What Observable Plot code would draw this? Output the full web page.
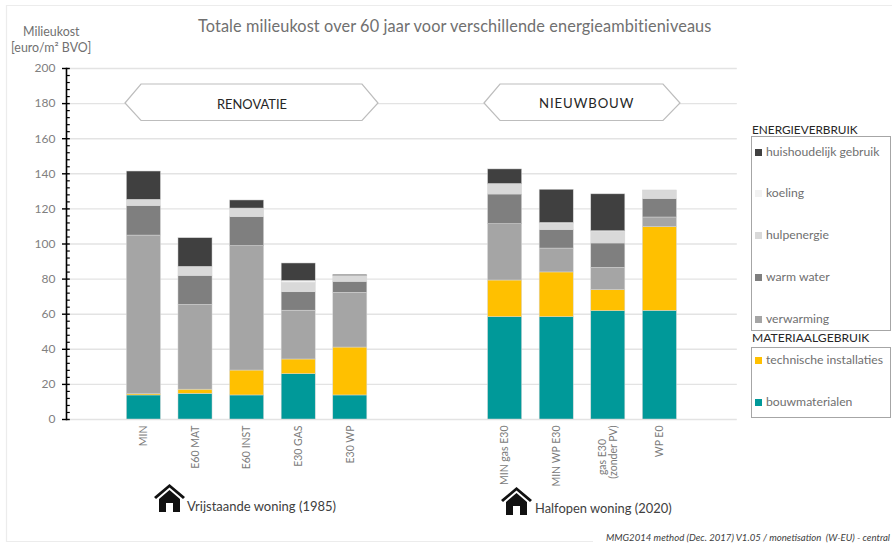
<!DOCTYPE html>
<html lang="nl">
<head>
<meta charset="utf-8">
<script src="https://cdn.jsdelivr.net/npm/d3@7"></script>
<script src="https://cdn.jsdelivr.net/npm/@observablehq/plot@0.6"></script>
<style>
html,body{margin:0;padding:0;background:#fff;}
#wrap{position:relative;width:892px;height:544px;overflow:hidden;font-family:Lato,sans-serif;color:#6f6f6f;}
#wrap svg{display:block;}
.abs{position:absolute;white-space:nowrap;line-height:1;}
.sw{position:absolute;width:7px;height:7px;}
.box{position:absolute;border:1px solid #a6a6a6;box-sizing:border-box;}
</style>
</head>
<body>
<div id="wrap"></div>
<script>
// Categories on the x axis, with empty slots between the groups
const gasLabel = "gas E30\u00a0\u00a0\u00a0\u00a0\u00a0\n(zonder PV)";
const xDomain = ["·1","MIN","E60 MAT","E60 INST","E30 GAS","E30 WP","·2","·3","MIN gas E30","MIN WP E30",gasLabel,"WP E0","·4"];
const categories = ["MIN","E60 MAT","E60 INST","E30 GAS","E30 WP","MIN gas E30","MIN WP E30",gasLabel,"WP E0"];

// Series values (euro/m² BVO), one per category
const bouwmaterialen        = [13.7,14.6,13.7,25.8,13.7,58.3,58.3,61.7,61.9];
const technischeInstallaties= [0.7,2.4,14.2,8.4,27.3,20.9,25.5,12.0,47.7];
const verwarming            = [90.4,48.3,70.9,27.8,31.2,32.1,13.6,12.7,5.5];
const warmWater             = [16.8,16.5,16.5,10.5,6.2,16.9,10.5,13.9,10.5];
const hulpenergie           = [3.6,5.2,4.9,5.3,3.4,5.7,3.6,6.6,4.9];
const koeling               = [0,0,0,1.2,0,0.3,0.5,0.4,0];
const huishoudelijk         = [16.1,16.3,4.6,9.9,0.6,8.3,18.9,21.0,0];

const seriesNames  = ["bouwmaterialen","technische installaties","verwarming","warm water","hulpenergie","koeling","huishoudelijk gebruik"];
const seriesValues = [bouwmaterialen,technischeInstallaties,verwarming,warmWater,hulpenergie,koeling,huishoudelijk];
const seriesColors = ["#009999","#ffc000","#a5a5a5","#7f7f7f","#d9d9d9","#f2f2f2","#404040"];

const majorTicks = d3.range(0,201,20);
const minorTicks = d3.range(0,201,4).filter(v => v % 20 !== 0);

const rows = categories.flatMap((c,i) =>
  seriesNames.map((s,j) => ({category:c, series:s, value:seriesValues[j][i]})));

const chart = Plot.plot({
  width:892, height:544,
  marginLeft:66, marginRight:155.2, marginTop:68, marginBottom:125,
  style:{fontFamily:"Lato,sans-serif",fontSize:"12px",background:"transparent"},
  x:{type:"band",domain:xDomain,paddingInner:0.34,paddingOuter:0.17,round:false,label:null},
  y:{domain:[0,200],label:null},
  color:{domain:seriesNames,range:seriesColors},
  marks:[
    Plot.ruleY(majorTicks,{stroke:"#e3e3e3",strokeWidth:1.4}),
    Plot.barY(rows,{x:"category",y:"value",fill:"series",stroke:"#d6d6d6",strokeWidth:0.5}),
    Plot.axisX({ticks:categories,tickSize:0,tickRotate:-90,tickPadding:6,label:null,fill:"#7a7a7a",fontSize:10.5}),
    Plot.axisY({ticks:majorTicks,tickSize:4,tickPadding:7,label:null,stroke:"#000",strokeWidth:1.4,fill:"#808080",fontSize:12}),
    Plot.ruleY(majorTicks,{stroke:"#000",strokeWidth:1.4,insetRight:667}),
    Plot.ruleY(minorTicks,{stroke:"#000",strokeWidth:1.2,insetRight:667}),
    Plot.frame({anchor:"left",stroke:"#000",strokeWidth:1.6})
  ]
});

const wrap = document.getElementById("wrap");
wrap.appendChild(chart);

// Decorations: page frame, group banners, house icons
const housePath = (x,y) => `M${x} ${y+13}L${x+15.5} ${y}L${x+31} ${y+13}L${x+29} ${y+15}L${x+15.5} ${y+3.5}L${x+2} ${y+15}Z`+
  `M${x+5} ${y+15}L${x+15.5} ${y+6}L${x+26} ${y+15}V${y+28}H${x+19}V${y+19}H${x+12}V${y+28}H${x+5}Z`;
const overlay = `<svg xmlns="http://www.w3.org/2000/svg" width="892" height="544" style="position:absolute;left:0;top:0;pointer-events:none">
  <path d="M900 5.5H6.5V541.5H593" fill="none" stroke="#ececec" stroke-width="1.2"/>
  <polygon points="125,103 141,84 362,84 378,103 362,120.5 141,120.5" fill="#fff" stroke="#bdbdbd" stroke-width="1.2"/>
  <polygon points="484,103 500,84 663,84 680,103 663,120.5 500,120.5" fill="#fff" stroke="#bdbdbd" stroke-width="1.2"/>
  <path d="${housePath(154,484)}" fill="#111"/>
  <path d="${housePath(501,487)}" fill="#111"/>
</svg>`;
wrap.insertAdjacentHTML("beforeend",overlay);

function text(str,x,yc,size,color,extra){
  const d=document.createElement("div");
  d.className="abs";
  d.textContent=str;
  d.style.cssText=`left:${x}px;top:${yc-size/2}px;font-size:${size}px;color:${color};${extra||""}`;
  wrap.appendChild(d);
  return d;
}
text("Totale milieukost over 60 jaar voor verschillende energieambitieniveaus",198,26,16.3,"#707070","letter-spacing:0.11px;");
text("Milieukost",23,32,12.4,"#707070");
text("[euro/m² BVO]",11,48,12.4,"#707070");
text("RENOVATIE",217,104,12.9,"#262626");
text("NIEUWBOUW",539,104,13.2,"#262626","letter-spacing:0.9px;");
text("Vrijstaande woning (1985)",187,506,13,"#404040");
text("Halfopen woning (2020)",535,508,12.9,"#404040");
text("MMG2014 method (Dec. 2017) V1.05 / monetisation  (W-EU) - central",606,538,9.6,"#404040","font-style:italic;white-space:pre;");

// Legend
const legendBoxes=[[751,136,139.5,194.5],[751,347,139.5,70.5]];
legendBoxes.forEach(([l,t,w,h])=>{
  const b=document.createElement("div");
  b.className="box";
  b.style.cssText=`left:${l}px;top:${t}px;width:${w}px;height:${h}px;`;
  wrap.appendChild(b);
});
text("ENERGIEVERBRUIK",752,129.5,11.8,"#262626");
text("MATERIAALGEBRUIK",752,338.5,12.1,"#262626");
const legendOrder=[6,5,4,3,2,1,0];
const legendY=[152,193.5,235,277,319,360.5,402];
legendOrder.forEach((s,i)=>{
  const sw=document.createElement("div");
  sw.className="sw";
  sw.style.cssText=`left:755px;top:${legendY[i]-3.5}px;background:${seriesColors[s]};`;
  wrap.appendChild(sw);
  text(seriesNames[s],766,legendY[i],12.2,"#707070");
});
</script>
</body>
</html>
